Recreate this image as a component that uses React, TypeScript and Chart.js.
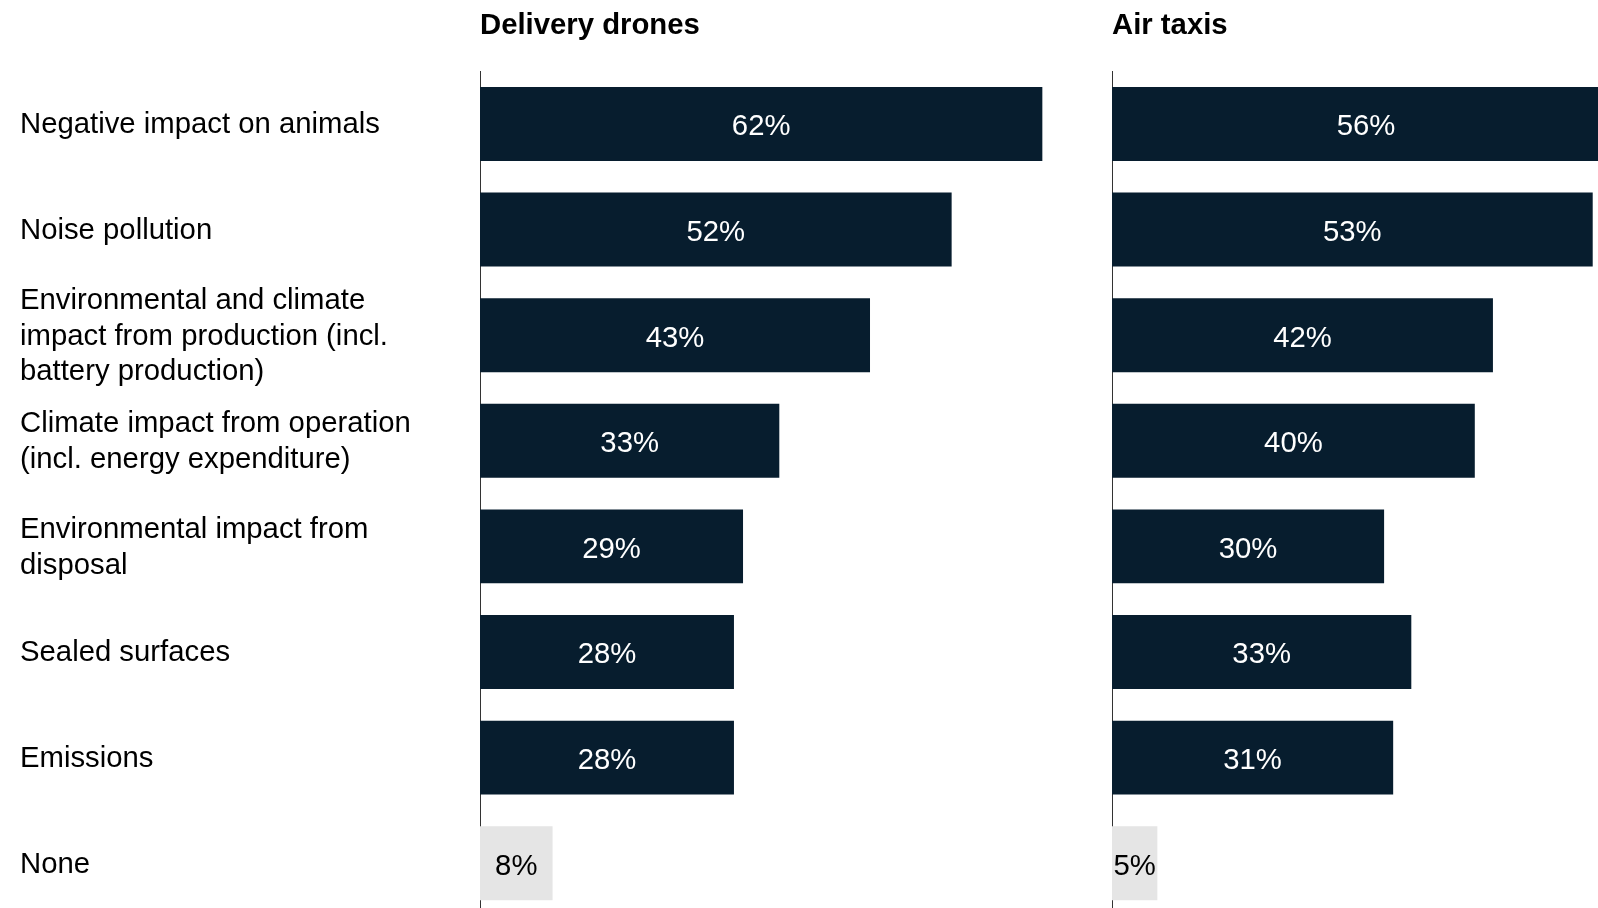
import React, { useEffect, useRef } from 'react';
import { Chart, registerables } from 'chart.js';

Chart.register(...registerables);

const categories: (string | string[])[] = [
  'Negative impact on animals',
  'Noise pollution',
  ['Environmental and climate', 'impact from production (incl.', 'battery production)'],
  ['Climate impact from operation', '(incl. energy expenditure)'],
  ['Environmental impact from', 'disposal'],
  'Sealed surfaces',
  'Emissions',
  'None',
];
const deliveryDrones = [62, 52, 43, 33, 29, 28, 28, 8];
const airTaxis = [56, 53, 42, 40, 30, 33, 31, 5];
const panelTitles = ['Delivery drones', 'Air taxis'];
const highlightCategory = 'None';

const NAVY = '#071d2e';
const GREY = '#e5e5e5';
const FONT = "'Liberation Sans', Arial, Helvetica, sans-serif";
const FS = 29.3;
const LINE_H = 35.7;
const PX_PER_PCT = 9.07;

const isNone = (c: string | string[]) => c === highlightCategory;

const valueLabels = {
  id: 'valueLabels',
  afterDatasetsDraw(chart: any) {
    const ctx = chart.ctx;
    const meta = chart.getDatasetMeta(0);
    const data = chart.data.datasets[0].data as number[];
    const labels = chart.data.labels as (string | string[])[];
    ctx.save();
    ctx.font = `${FS}px ${FONT}`;
    ctx.textAlign = 'center';
    ctx.textBaseline = 'alphabetic';
    meta.data.forEach((el: any, i: number) => {
      ctx.fillStyle = isNone(labels[i]) ? '#000000' : '#ffffff';
      ctx.fillText(`${data[i]}%`, (el.x + el.base) / 2, el.y + 11.5);
    });
    ctx.restore();
  },
};

// Draws the category names left-aligned in the y-axis area of the panel
const categoryLabels = {
  id: 'categoryLabels',
  afterDraw(chart: any, _args: any, opts: any) {
    if (!opts || !opts.show) return;
    const ctx = chart.ctx;
    const yScale = chart.scales.y;
    const labels = chart.data.labels as (string | string[])[];
    ctx.save();
    ctx.font = `${FS}px ${FONT}`;
    ctx.textAlign = 'left';
    ctx.textBaseline = 'alphabetic';
    ctx.fillStyle = '#000000';
    labels.forEach((lab, i) => {
      const lines = Array.isArray(lab) ? lab : [lab];
      const cy = yScale.getPixelForTick(i);
      lines.forEach((ln, j) => {
        const y = cy + 9.5 + (j - (lines.length - 1) / 2) * LINE_H;
        ctx.fillText(ln, yScale.left, y);
      });
    });
    ctx.restore();
  },
};

function makePanel(
  canvas: HTMLCanvasElement,
  title: string,
  values: number[],
  showLabels: boolean,
  canvasWidth: number,
  axisLeft: number
) {
  const areaWidth = canvasWidth - axisLeft;
  const xMax = areaWidth / PX_PER_PCT;
  return new Chart(canvas, {
    type: 'bar',
    data: {
      labels: categories,
      datasets: [
        {
          data: values,
          backgroundColor: categories.map((c) => (isNone(c) ? GREY : NAVY)),
          borderWidth: 0,
          barPercentage: 0.7,
          categoryPercentage: 1,
        },
      ],
    },
    options: {
      indexAxis: 'y',
      responsive: false,
      animation: false,
      devicePixelRatio: 1,
      layout: {
        padding: { left: showLabels ? 20 : axisLeft, right: 0, top: 0, bottom: 24 },
      },
      scales: {
        x: { type: 'linear', min: 0, max: xMax, display: false },
        y: {
          type: 'category',
          position: 'left',
          z: 1,
          grid: { display: false },
          border: { display: true, color: '#333333', width: 1 },
          ticks: { display: false, autoSkip: false },
          afterFit: (s: any) => {
            s.width = showLabels ? axisLeft - 20 : 0;
          },
        },
      },
      plugins: {
        legend: { display: false },
        tooltip: { enabled: false },
        categoryLabels: { show: showLabels },
        title: {
          display: true,
          text: title,
          align: 'start',
          fullSize: false,
          color: '#000000',
          font: { family: FONT, size: FS, weight: 'bold', lineHeight: 1.2 },
          padding: { top: 8, bottom: 28 },
        },
      },
    },
    plugins: [valueLabels, categoryLabels],
  } as any);
}

export default function App() {
  const leftRef = useRef<HTMLCanvasElement>(null);
  const rightRef = useRef<HTMLCanvasElement>(null);

  useEffect(() => {
    Chart.defaults.font.family = FONT;
    const a = makePanel(leftRef.current!, panelTitles[0], deliveryDrones, true, 1100, 480);
    const b = makePanel(rightRef.current!, panelTitles[1], airTaxis, false, 700, 12);
    return () => {
      a.destroy();
      b.destroy();
    };
  }, []);

  return (
    <div
      style={{
        position: 'absolute',
        left: 0,
        top: 0,
        width: 1598,
        height: 908,
        overflow: 'hidden',
        background: '#ffffff',
      }}
    >
      <canvas
        ref={leftRef}
        width={1100}
        height={940}
        style={{ position: 'absolute', left: 0, top: 0, width: 1100, height: 940 }}
      />
      <canvas
        ref={rightRef}
        width={700}
        height={940}
        style={{ position: 'absolute', left: 1100, top: 0, width: 700, height: 940 }}
      />
    </div>
  );
}
